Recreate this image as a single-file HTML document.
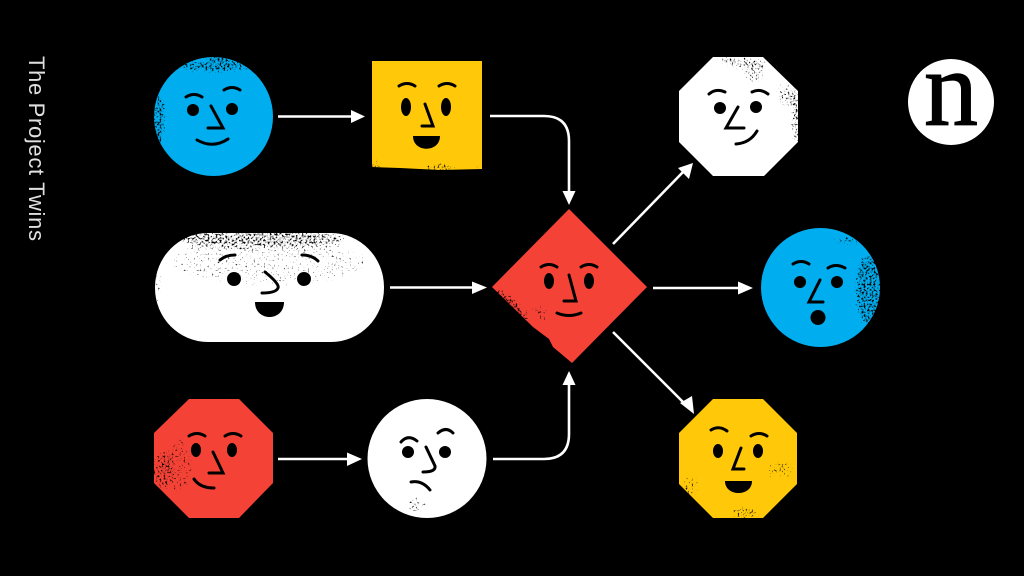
<!DOCTYPE html>
<html>
<head>
<meta charset="utf-8">
<title>The Project Twins</title>
<style>
html,body{margin:0;padding:0;background:#000;width:1024px;height:576px;overflow:hidden}
svg{display:block}
.f{fill:none;stroke:#000;stroke-width:3;stroke-linecap:round;stroke-linejoin:miter}
.a{fill:none;stroke:#fff;stroke-width:2.6}
</style>
</head>
<body>
<svg width="1024" height="576" viewBox="0 0 1024 576" xmlns="http://www.w3.org/2000/svg">
<defs>
<filter id="g" filterUnits="userSpaceOnUse" x="0" y="0" width="1024" height="576" color-interpolation-filters="sRGB">
<feGaussianBlur in="SourceAlpha" stdDeviation="3" result="d"/>
<feTurbulence type="fractalNoise" baseFrequency="0.5" numOctaves="3" seed="4"/>
<feColorMatrix values="0 0 0 0 0 0 0 0 0 0 0 0 0 0 0 1 0 0 0 0" result="n"/>
<feComposite in="n" in2="d" operator="arithmetic" k1="0" k2="1" k3="0.6" k4="-0.6"/>
<feComponentTransfer><feFuncA type="linear" slope="6" intercept="-3"/></feComponentTransfer>
</filter>
</defs>
<rect width="1024" height="576" fill="#000"/>

<text transform="translate(29 56) rotate(90)" font-family="'Liberation Sans',sans-serif" font-size="22" letter-spacing="0.66" fill="#e0e0e0">The Project Twins</text>

<!-- shapes -->
<circle cx="213.500" cy="116.500" r="59.500" fill="#00aeef"/>
<polygon points="372,61 482,61 482,169 440,170 400,168 372,167" fill="#ffc90a"/>
<rect x="155" y="233" width="229" height="109" rx="53" ry="54" fill="#fff"/>
<polygon points="154,433 189,399 239,399 273,433 273,483 239,518 189,518 154,483" fill="#f44336"/>
<circle cx="427" cy="458.500" r="59.500" fill="#fff"/>
<polygon points="569,209 647,287 572,363 553,347 549,339 533,327 492,287" fill="#f44336"/>
<polygon points="713,57 763,57 798,91 798,142 764,176 713,176 679,142 679,91" fill="#fff"/>
<circle cx="820.500" cy="287.500" r="59.500" fill="#00aeef"/>
<polygon points="713,399 763,399 797,433 797,484 763,518 713,518 679,484 679,433" fill="#ffc90a"/>

<!-- grit -->
<g filter="url(#g)" fill="#000">
<ellipse cx="215" cy="66" rx="44" ry="8"/>
<ellipse cx="220" cy="60" rx="14" ry="10"/>
<ellipse cx="159" cy="118" rx="8" ry="30"/>
<ellipse cx="376" cy="165" rx="6" ry="7"/>
<ellipse cx="440" cy="168" rx="18" ry="6"/>
<ellipse cx="479" cy="167" rx="6" ry="5"/>
<ellipse cx="255" cy="238" rx="95" ry="10"/>
<ellipse cx="270" cy="262" rx="100" ry="26" fill-opacity=".72"/>
<ellipse cx="158" cy="288" rx="5" ry="26" fill-opacity=".8"/>
<ellipse cx="162" cy="470" rx="11" ry="22" fill-opacity=".92"/>
<ellipse cx="180" cy="465" rx="14" ry="30" fill-opacity=".78"/>
<ellipse cx="417" cy="505" rx="12" ry="10" fill-opacity=".82"/>
<ellipse cx="512" cy="306" rx="26" ry="8" transform="rotate(45 512 306)"/>
<ellipse cx="540" cy="312" rx="12" ry="8" fill-opacity=".85" transform="rotate(45 540 312)"/>
<ellipse cx="745" cy="63" rx="24" ry="7" fill-opacity=".85"/>
<ellipse cx="727" cy="60" rx="10" ry="5"/>
<ellipse cx="754" cy="72" rx="12" ry="14" fill-opacity=".85"/>
<ellipse cx="796" cy="118" rx="6" ry="32"/>
<ellipse cx="785" cy="95" rx="10" ry="14" fill-opacity=".85"/>
<ellipse cx="868" cy="290" rx="15" ry="38"/>
<ellipse cx="848" cy="240" rx="18" ry="7" fill-opacity=".85"/>
<ellipse cx="745" cy="513" rx="16" ry="8" fill-opacity=".92"/>
<ellipse cx="780" cy="470" rx="16" ry="11" fill-opacity=".82"/>
<ellipse cx="690" cy="487" rx="10" ry="14" fill-opacity=".8"/>
</g>

<!-- faces -->
<g>
<circle cx="193" cy="110" r="6"/><circle cx="232" cy="109" r="6"/>
<path class="f" d="M186 97Q194 92 202 97M224 90Q232 85 240 90M211 106L223 128H208M197 140Q213 149 228 139"/>
</g>
<g>
<ellipse cx="406" cy="107" rx="5" ry="9"/><ellipse cx="446" cy="107" rx="5" ry="9"/>
<path class="f" d="M399 86Q407 81 415 86M439 86Q447 81 455 86M425 104L433 126H422"/>
<path d="M413 136H440C440 153 413 153 413 136Z"/>
</g>
<g>
<circle cx="234" cy="279" r="7"/><circle cx="304" cy="279" r="7"/>
<path class="f" d="M220 260Q226 255 235 255M302 255Q312 255 318 261M265 272Q280 284 278 288Q276 293 262 293"/>
<path d="M255 302H284C284 322 255 322 255 302Z"/>
</g>
<g>
<ellipse cx="196" cy="450" rx="5" ry="7"/><ellipse cx="232" cy="450" rx="5" ry="7"/>
<path class="f" d="M189 436Q197 431 205 436M225 436Q233 431 241 436M213 452L223 473H209M194 479Q200 488 214 488"/>
</g>
<g>
<circle cx="408" cy="452" r="6"/><circle cx="445" cy="452" r="6"/>
<path class="f" d="M401 442Q408 434 417 441M438 433Q446 426 453 433M426 447L435 466Q436 472 423 472M411 482Q422 480 430 490"/>
</g>
<g>
<ellipse cx="549" cy="281" rx="5" ry="8"/><ellipse cx="589" cy="281" rx="5" ry="8"/>
<path class="f" d="M541 267Q549 262 557 267M581 267Q589 262 597 267M569 275L576 301H564M557 313Q569 318 581 313"/>
</g>
<g>
<circle cx="720" cy="108" r="6"/><circle cx="756" cy="107" r="6"/>
<path class="f" d="M709 94Q716 88 725 92M752 92Q760 88 768 94M738 107L726 128H744M736 144Q750 143 757 131"/>
</g>
<g>
<circle cx="800" cy="282" r="6"/><circle cx="837" cy="282" r="6"/>
<path class="f" d="M793 264Q801 259 809 264M828 268Q836 263 845 268M820 280L809 302H823"/>
<circle cx="818" cy="317.500" r="7.500"/>
</g>
<g>
<ellipse cx="718" cy="451" rx="5" ry="7"/><ellipse cx="758" cy="451" rx="5" ry="7"/>
<path class="f" d="M711 430Q719 425 727 431M751 436Q759 431 767 436M741 448L733 469H744"/>
<path d="M725 481H752C752 497 725 497 725 481Z"/>
</g>

<!-- connectors -->
<path class="a" d="M278 116.500H353"/><polygon fill="#fff" points="351,110 365,116.500 351,123"/>
<path class="a" d="M490 116H544Q569 116 569 141V193"/><polygon fill="#fff" points="562.500,191 575.500,191 569,205"/>
<path class="a" d="M390 287.500H474"/><polygon fill="#fff" points="472,281.500 487,287.500 472,294"/>
<path class="a" d="M278 459H349"/><polygon fill="#fff" points="347,452.500 362,459 347,466"/>
<path class="a" d="M493 459H544Q569 459 569 434V383"/><polygon fill="#fff" points="562.500,385 575.500,385 569,371"/>
<path class="a" d="M613 244L684 171"/><polygon fill="#fff" points="678,168 689,179 693,163"/>
<path class="a" d="M653 288H740"/><polygon fill="#fff" points="738,281.500 753,288 738,294.500"/>
<path class="a" d="M613 332L686 405"/><polygon fill="#fff" points="680,403 692,396 694,414"/>

<!-- logo -->
<circle cx="951" cy="102" r="43" fill="#fff"/>
<text x="951" y="125" text-anchor="middle" font-family="'Liberation Serif',serif" font-size="108" stroke="#000" stroke-width="1.2" fill="#000">n</text>
</svg>
</body>
</html>
